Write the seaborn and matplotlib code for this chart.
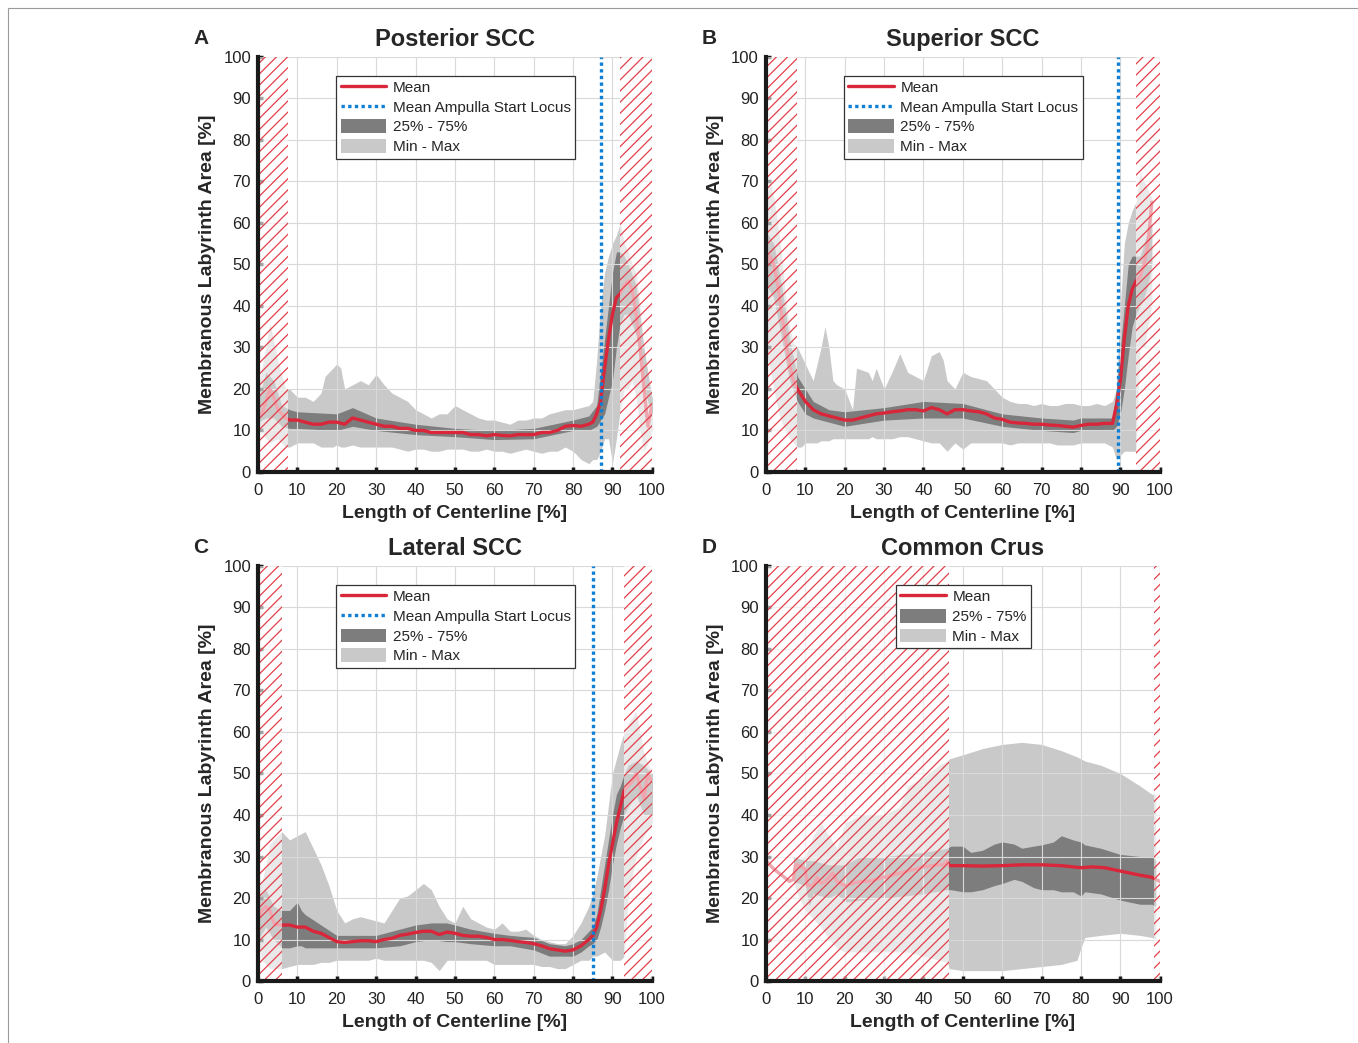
import numpy as np
import pandas as pd
import matplotlib
matplotlib.use("Agg")
import matplotlib.pyplot as plt
import seaborn as sns
from matplotlib.lines import Line2D
from matplotlib.patches import Patch, Rectangle

# ---------------- data ----------------
# A - Posterior SCC
a_mx = [0, 1, 2, 3, 4, 5, 6, 7, 8, 10, 12, 14, 16, 18, 20, 22, 24, 26, 28, 30, 32, 34, 36, 38, 40, 42, 44, 46, 48,
        50, 52, 54, 56, 58, 60, 62, 64, 66, 68, 70, 72, 74, 76, 78, 80, 82, 84, 85, 86, 87, 88, 89, 90, 91, 92, 93,
        94, 95, 96, 97, 98, 99, 100]
a_mean = [14, 14, 17, 20, 18, 15, 14, 13, 12.5, 12.5, 12, 11.5, 11.5, 12, 12, 11.5, 13, 12.5, 12, 11.5, 11, 11, 10.5,
          10.5, 10, 10, 9.5, 9.5, 9.5, 9.5, 9.5, 9, 9, 8.7, 9, 8.8, 8.7, 9, 9, 9, 9.5, 9.5, 10, 11, 11.2, 11, 11.5, 12,
          14, 17, 25, 32, 38, 42, 43, 45, 46, 44, 38, 30, 20, 11, 16]
a_qx = [0, 2, 4, 6, 8, 10, 20, 24, 30, 40, 50, 60, 70, 80, 84, 86, 88, 90, 91, 92, 93, 94, 96, 98, 100]
a_q25 = [12, 13, 13, 11, 10.5, 10.5, 10, 11, 10, 9, 8.5, 7.8, 8, 10, 10, 11, 14, 22, 30, 36, 38, 38, 33, 20, 14]
a_q75 = [17, 24, 22, 16, 15, 14.5, 14, 15.5, 13, 11.5, 10.5, 10, 10.5, 12.5, 13.5, 16, 32, 48, 53, 53, 52, 50, 45, 30, 18]
a_rx = [0, 2, 3, 5, 7, 8, 10, 12, 14, 16, 17, 19, 20, 21, 22, 24, 26, 28, 30, 32, 34, 36, 38, 40, 42, 44, 46, 48, 50,
        52, 54, 56, 58, 60, 62, 64, 66, 68, 70, 72, 74, 76, 78, 80, 82, 84, 85, 86, 87, 88, 89, 90, 91, 92, 93, 94,
        95, 96, 97, 98, 99, 100]
a_min = [12, 8, 7, 8, 6, 6, 7, 7, 7, 6, 6, 6, 6.5, 6, 6, 6.5, 6, 6, 6, 6, 6, 5.5, 5, 5.5, 5.5, 5, 5, 5.5, 5.5, 5.5, 5,
         5, 5.5, 5, 5, 4.5, 5, 5.5, 5, 4.5, 5, 5, 6, 5, 3, 2, 3, 3, 5, 8, 8, 2, 8, 15, 20, 20, 22, 18, 10, 5, 7, 10]
a_max = [20, 30, 36, 27, 20, 20, 18, 18, 17, 19, 23, 25, 26, 25, 20, 21, 22, 21, 23.5, 21, 19, 18, 17, 15, 14, 13, 14,
         14, 16, 15, 14, 13, 12.5, 12.5, 12, 11.5, 12.5, 12.5, 13, 13, 14, 14.5, 15, 15, 15.5, 16, 17, 27, 40, 48, 52,
         55, 57, 60, 55, 53, 50, 48, 40, 30, 20, 17]

# B - Superior SCC
b_mx = [0, 1, 2, 3, 4, 5, 6, 7, 8, 10, 12, 14, 16, 18, 20, 22, 24, 26, 28, 30, 32, 34, 36, 38, 40, 42, 44, 46, 48, 50,
        52, 54, 56, 58, 60, 62, 64, 66, 68, 70, 72, 74, 76, 78, 80, 82, 84, 86, 88, 89, 90, 91, 92, 93, 94, 95, 96,
        97, 98]
b_mean = [50, 52, 50, 45, 38, 32, 26, 22, 20, 17, 15, 14, 13.5, 13, 12.5, 12.5, 13, 13.5, 14, 14.2, 14.5, 14.7, 15, 15,
          14.7, 15.5, 15, 14, 15, 15, 14.7, 14.5, 14, 13, 12.7, 12, 11.8, 11.7, 11.5, 11.5, 11.3, 11.2, 11, 10.8, 11.2,
          11.5, 11.5, 11.7, 11.7, 16, 22, 32, 40, 44, 46, 47, 50, 55, 65]
b_qx = [0, 2, 4, 6, 8, 10, 12, 16, 20, 30, 40, 50, 60, 70, 78, 80, 88, 89, 90, 91, 92, 93, 94, 95, 96, 97, 98]
b_q25 = [45, 42, 32, 22, 17, 14, 13, 12, 11, 12.5, 13, 13, 11, 10, 9.5, 10, 10, 11, 14, 20, 28, 35, 38, 40, 42, 45, 50]
b_q75 = [58, 55, 45, 32, 23, 20, 17, 15, 14.5, 15.5, 17, 16.5, 14, 13, 12.5, 13, 13, 20, 30, 40, 50, 52, 52, 52, 55, 58,
         60]
b_rx = [0, 1, 2, 3, 4, 5, 6, 7, 8, 9, 10, 12, 13, 14, 15, 16, 17, 18, 20, 22, 23, 26, 27, 28, 30, 32, 34, 36, 38, 40,
        42, 44, 45, 46, 48, 50, 52, 54, 56, 58, 60, 62, 64, 66, 68, 70, 72, 74, 76, 78, 80, 82, 84, 86, 88, 89, 90,
        91, 92, 93, 94, 95, 96, 97, 98]
b_min = [30, 25, 20, 15, 12, 10, 8, 7, 6, 6, 7, 7, 7, 7.5, 7.5, 7.5, 8, 8, 8, 8, 8, 8, 8.5, 8, 8, 8, 8.5, 8.5, 8, 7.5,
         7, 7, 6, 5, 7, 5.5, 7, 7, 7, 7, 7, 6.5, 7, 7, 7, 7, 7, 6.5, 6.5, 6.5, 7, 7, 7, 7, 6, 3, 4, 5, 5, 5, 5, 30, 30,
         35, 40]
b_max = [65, 70, 66, 60, 52, 42, 35, 31, 30, 28, 26, 22, 26, 30, 35, 30, 22, 21, 20, 15, 25, 24, 22, 25, 20, 24, 28.5,
         24, 23, 22, 28, 29, 27, 22, 20, 24, 23, 22.5, 22, 20, 18, 17, 16.5, 16.5, 16, 16.5, 16, 16, 16.5, 16.5, 16, 16,
         16.5, 16, 17, 20, 40, 55, 60, 63, 65, 72, 70, 68, 66]

# C - Lateral SCC
c_mx = [0, 1, 2, 3, 4, 5, 6, 8, 10, 12, 14, 16, 18, 20, 22, 24, 26, 28, 30, 32, 34, 36, 38, 40, 42, 44, 46, 48, 50, 52,
        54, 56, 58, 60, 62, 64, 66, 68, 70, 72, 74, 76, 78, 80, 82, 84, 85, 86, 87, 88, 89, 90, 91, 92, 93, 94, 95,
        96, 97, 98, 99, 100]
c_mean = [15, 17, 18, 17, 14, 13.5, 13.5, 13.5, 13, 13, 12, 11.5, 10.5, 9.5, 9.3, 9.5, 9.7, 9.7, 9.5, 10, 10.3, 11,
          11.3, 11.7, 12, 12, 11.2, 11.8, 11.5, 11, 10.8, 10.8, 10.5, 10, 10, 9.8, 9.5, 9.3, 9, 8.5, 7.8, 7.5, 7.2, 7.5,
          8.5, 10, 11, 13, 17, 22, 28, 33, 38, 42, 46, 47, 48, 50, 47, 44, 50, 48]
c_qx = [0, 2, 4, 6, 8, 10, 11, 12, 16, 20, 24, 30, 36, 40, 44, 48, 50, 54, 60, 64, 70, 74, 78, 80, 82, 84, 85, 86, 87,
        88, 89, 90, 91, 92, 93, 94, 96, 98, 100]
c_q25 = [10, 13, 10, 8, 8, 8.5, 8.5, 8, 8, 8, 8, 8, 8.5, 9.5, 10, 9.5, 9.5, 9, 8.5, 8.5, 7.5, 6, 6, 6, 7, 8.5, 9, 10, 13,
         17, 22, 28, 33, 37, 40, 42, 45, 40, 40]
c_q75 = [20, 22, 18, 17, 17, 19, 17, 16, 13.5, 11, 11, 11, 12.5, 13.5, 14, 14, 13.5, 12.5, 11.5, 11, 10.5, 9, 8.5, 9, 10,
         12, 13, 16, 22, 28, 34, 40, 45, 47, 50, 52, 53, 52, 50]
c_rx = [0, 1, 2, 3, 5, 6, 8, 10, 12, 14, 16, 18, 20, 22, 24, 26, 28, 30, 32, 34, 36, 38, 40, 42, 44, 46, 48, 50, 52, 54,
        56, 58, 60, 62, 64, 66, 68, 70, 72, 74, 76, 78, 80, 82, 84, 85, 86, 88, 90, 92, 93, 94, 96, 98, 100]
c_min = [10, 5, 4, 3, 3, 3, 3.5, 4, 4, 4, 4.5, 4.5, 5, 5, 5, 5, 5, 5.5, 5, 5, 5, 5, 5, 5, 4.5, 2.5, 5, 5, 5, 5, 5, 5, 4,
         4, 4, 4, 4, 4, 3.5, 3.5, 3, 3, 4, 5, 5, 6, 6, 7, 5, 5, 6, 20, 30, 35, 38]
c_max = [22, 24, 28, 33, 35, 36, 34, 35, 36, 32, 28, 23, 17, 14, 15, 15.5, 15, 14.5, 14, 17, 20, 20.5, 22, 23.5, 22, 18,
         15, 14, 18, 15, 14, 13, 12.5, 14, 12, 12, 12.5, 11, 10, 9.5, 9, 9, 11, 14, 18, 21, 25, 35, 50, 57, 60, 62, 65,
         55, 50]

# D - Common Crus
d_mx = [0, 2, 4, 6, 7, 7.5, 8, 10, 10.5, 12, 13, 14, 15, 16, 17, 18, 20, 22, 24, 26, 28, 30, 32, 34, 36, 38, 40, 42,
        44, 45, 46, 46.5, 50, 55, 60, 65, 70, 75, 80, 83, 86, 90, 95, 98, 100]
d_mean = [29, 27, 25.5, 24, 24.5, 28, 28, 27, 23, 23, 25, 23.5, 24, 25, 26, 24, 23, 23.5, 24, 24, 24.5, 25, 25.5, 26,
          26.5, 27, 27.5, 27.8, 28, 28, 29, 27.8, 27.8, 27.7, 27.8, 28, 28, 27.8, 27.3, 27.5, 27.3, 26.5, 25.5, 25, 24]
d_qx = [7, 10, 11, 12, 16, 18, 20, 24, 30, 40, 46, 47, 50, 52, 55, 58, 60, 63, 65, 68, 70, 73, 75, 78, 80, 81, 85, 90,
        95, 98, 99]
d_q25 = [24, 23, 18, 21, 20, 21, 19, 19.5, 20, 21, 22, 22, 21.5, 21.5, 22, 23, 23.5, 24.5, 24, 22.5, 22, 22, 21.5, 21.5,
         20.5, 21.5, 21, 19.5, 18.5, 18.5, 18]
d_q75 = [30, 29, 29, 29, 28, 28, 28, 30, 30, 31, 32, 32.5, 32.5, 31, 31.5, 33, 33.5, 33, 32, 32.5, 32.8, 33.5, 35, 34,
         33.5, 32.8, 32, 30.5, 30, 30, 29]
d_rx = [7, 8, 10, 12, 14, 16, 18, 20, 24, 30, 34, 36, 40, 44, 46, 46.5, 50, 55, 60, 65, 70, 75, 79, 80, 81, 85, 90, 95,
        98, 99]
d_min = [24, 21, 17, 15, 13, 10, 8, 7, 7, 7, 7, 7, 6, 5, 4.5, 3, 2.5, 2.5, 2.5, 3, 3.5, 4, 5, 8, 10.5, 11, 11.5, 11,
         10.5, 10]
d_max = [30, 29, 30, 35, 38, 35, 32, 38, 40, 40, 42, 47, 49, 52, 53, 53.5, 54.5, 56, 57, 57.5, 57, 55.5, 54, 53.5, 53,
         52, 50, 47, 45, 45]

titles = ["Posterior SCC", "Superior SCC", "Lateral SCC", "Common Crus"]
letters = ["A", "B", "C", "D"]
ampulla = [87, 89.5, 85, None]
excluded = [[(0, 7.5), (92, 100)], [(0, 8), (94, 100)], [(0, 6), (93, 100)], [(0, 46.5), (98.5, 100)]]

panels = [
    (a_mx, a_mean, a_qx, a_q25, a_q75, a_rx, a_min, a_max),
    (b_mx, b_mean, b_qx, b_q25, b_q75, b_rx, b_min, b_max),
    (c_mx, c_mean, c_qx, c_q25, c_q75, c_rx, c_min, c_max),
    (d_mx, d_mean, d_qx, d_q25, d_q75, d_rx, d_min, d_max),
]

# ---------------- style ----------------
sns.set_theme(style="whitegrid")
plt.rcParams['font.family'] = ['Liberation Sans', 'DejaVu Sans']
plt.rcParams['hatch.linewidth'] = 0.9

RED = "#d9263a"
HATCH = "#e2404a"
BLUE = "#0f7fd6"
DARK = "#7d7d7d"
LIGHT = "#c9c9c9"

fig = plt.figure(figsize=(13.58, 10.43), dpi=100)
fig.patch.set_facecolor("white")
fig.add_artist(Rectangle((0.006, -0.02), 1.2, 1.012, transform=fig.transFigure, fill=False,
                         edgecolor="#9a9a9a", lw=0.8))

pos = [(0.190, 0.5475), (0.564, 0.5475), (0.190, 0.0594), (0.564, 0.0594)]
W, H = 0.290, 0.398

for i, (mx, mean, qx, q25, q75, rx, lo, hi) in enumerate(panels):
    ax = fig.add_axes([pos[i][0], pos[i][1], W, H])
    ax.set_facecolor("white")

    ax.fill_between(rx, lo, hi, color=LIGHT, lw=0, zorder=1)
    ax.fill_between(qx, q25, q75, color=DARK, lw=0, zorder=2)
    df = pd.DataFrame({"x": mx, "y": mean})
    sns.lineplot(data=df, x="x", y="y", ax=ax, color=RED, lw=2.4, zorder=3)

    for (x0, x1) in excluded[i]:
        ax.axvspan(x0, x1, facecolor="white", alpha=0.6, lw=0, zorder=4)
        ax.axvspan(x0, x1, facecolor="none", edgecolor=HATCH, hatch="///", lw=0, zorder=5)

    handles = [Line2D([], [], color=RED, lw=2.4)]
    labels = ["Mean"]
    if ampulla[i] is not None:
        ax.axvline(ampulla[i], color=BLUE, ls=(0, (1, 1)), lw=2.4, zorder=6)
        handles.append(Line2D([], [], color=BLUE, ls=(0, (1, 1)), lw=2.4))
        labels.append("Mean Ampulla Start Locus")
    handles += [Patch(facecolor=DARK, lw=0), Patch(facecolor=LIGHT, lw=0)]
    labels += ["25% - 75%", "Min - Max"]

    ax.set_xlim(0, 100)
    ax.set_ylim(0, 100)
    ax.set_xticks(np.arange(0, 101, 10))
    ax.set_yticks(np.arange(0, 101, 10))
    ax.grid(True, color="#d9d9d9", lw=0.8)
    ax.set_axisbelow(False)
    for s in ["top", "right"]:
        ax.spines[s].set_visible(False)
    for s in ["left", "bottom"]:
        ax.spines[s].set_color("#1a1a1a")
        ax.spines[s].set_linewidth(3.0)
        ax.spines[s].set_zorder(10)
    ax.tick_params(axis="both", direction="in", length=3.5, width=2.5, color="#1a1a1a",
                   labelsize=12, labelcolor="#222222")
    ax.tick_params(axis="x", bottom=True, pad=8)
    ax.tick_params(axis="y", left=True, pad=5)

    ax.set_xlabel("Length of Centerline [%]", fontsize=14, fontweight="bold", labelpad=5)
    ax.set_ylabel("Membranous Labyrinth Area [%]", fontsize=14, fontweight="bold", labelpad=5)
    ax.set_title(titles[i], fontsize=17, fontweight="bold", pad=8)
    ax.text(-0.145, 1.045, letters[i], transform=ax.transAxes, fontsize=15, fontweight="bold",
            ha="center", va="center")

    leg_anchor = (0.198, 0.955) if ampulla[i] is not None else (0.33, 0.955)
    leg = ax.legend(handles, labels, loc="upper left", bbox_to_anchor=leg_anchor, fontsize=11,
                    frameon=True, fancybox=False, edgecolor="#333333", framealpha=1,
                    handlelength=3.0, handleheight=1.0, labelspacing=0.3, borderpad=0.3,
                    handletextpad=0.4, borderaxespad=0)
    leg.get_frame().set_linewidth(0.9)
    leg.set_zorder(20)

fig.savefig("out.png", dpi=100, facecolor="white")
